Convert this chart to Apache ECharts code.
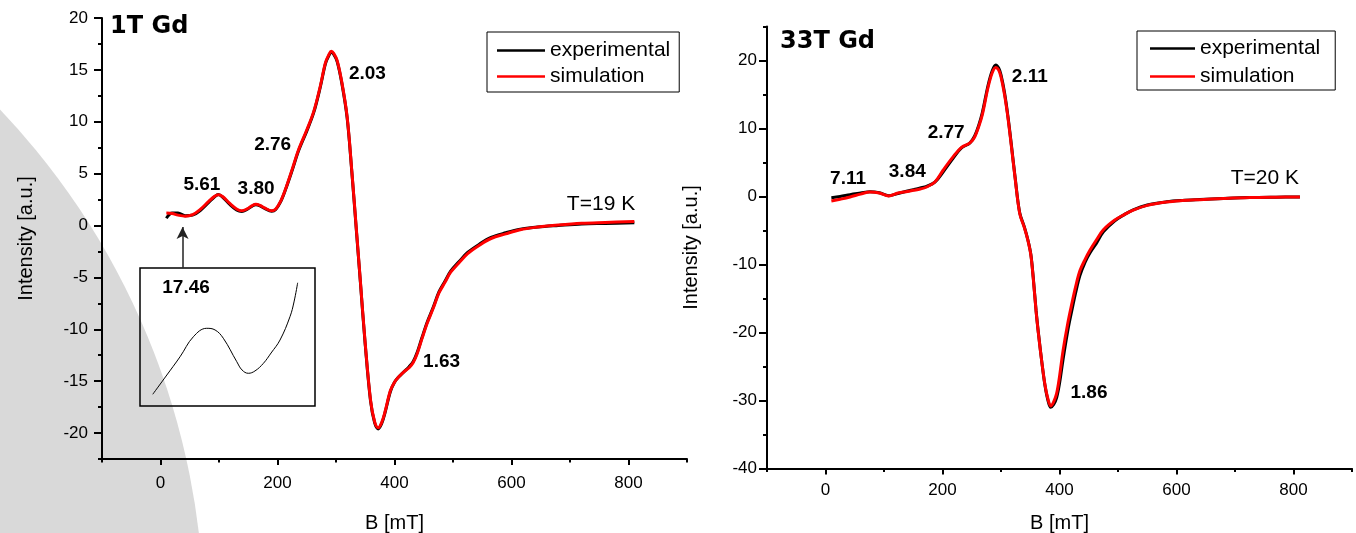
<!DOCTYPE html>
<html><head><meta charset="utf-8">
<script src="https://cdn.jsdelivr.net/npm/echarts@6/dist/echarts.min.js"></script>
<style>html,body{margin:0;padding:0;background:#fff}#c{width:1356px;height:533px}</style>
</head><body><div id="c"></div>
<script>
// ---------- data: left panel (1T Gd, T=19 K) ----------
const leftB   = [10,20,30,42,55,68,82,92,99,106,118,130,139,148,156,163,170,178,190,197,205,213,225,236,250,262,273,282,288,292,296,302,310,319,327,335,342,350,359,366,372,378,384,393,400,407,416,425,432,439,447,456,466,476,486,496,510,525,545,565,590,615,645,680,720,760,810];
const leftSim = [1.2,1.15,1.0,0.9,1.05,1.55,2.3,2.8,2.97,2.8,2.15,1.6,1.42,1.6,1.9,2.05,1.95,1.7,1.42,1.6,2.3,3.4,5.4,7.3,9.2,11.0,13.4,15.7,16.5,16.8,16.6,15.9,13.8,10.5,5.3,-0.5,-5.6,-11.4,-16.8,-18.9,-19.5,-19.0,-17.9,-15.9,-15.1,-14.6,-14.1,-13.7,-13.2,-12.3,-10.9,-9.4,-8.0,-6.5,-5.5,-4.5,-3.6,-2.7,-1.9,-1.25,-0.8,-0.4,-0.15,0.05,0.22,0.3,0.39];
const leftExp = [0.7,1.2,1.2,0.95,1.0,1.45,2.2,2.75,2.98,2.75,2.05,1.5,1.35,1.55,1.85,2.0,1.9,1.65,1.38,1.55,2.25,3.35,5.3,7.2,9.1,10.9,13.3,15.6,16.4,16.7,16.5,15.8,13.7,10.4,5.2,-0.6,-5.7,-11.5,-16.9,-19.0,-19.6,-19.1,-18.0,-16.0,-15.1,-14.6,-14.1,-13.6,-13.1,-12.2,-10.8,-9.3,-7.9,-6.4,-5.4,-4.4,-3.5,-2.6,-1.8,-1.15,-0.7,-0.35,-0.15,0.0,0.15,0.2,0.26];
const leftLabelText = ['5.61','3.80','2.76','2.03','1.63','T=19 K'];
const leftLabelB    = [70.8,163.4,191.7,353.7,480.5,753];
const leftLabelI    = [3.92,3.57,7.78,14.58,-13.14,2.07];
const arrowB = 37.7, arrowFromI = -4.08, arrowToI = -0.15;
// inset (enlarged low-field feature)
const insetX = [0.73,1.49,2.29,3.05,3.81,4.29,4.76,5.53,5.83,6.19,6.57,7.05,7.49,8.0,8.57,8.8,9.01];
const insetY = [0.85,2.17,3.57,5.02,5.63,5.51,4.91,3.21,2.61,2.37,2.54,3.09,3.84,4.78,6.47,7.54,8.93];
const insetLabelText = ['17.46'];
const insetLabelX = [2.63], insetLabelY = [8.55];

// ---------- data: right panel (33T Gd, T=20 K) ----------
const rightB   = [10,25,42,60,76,92,108,124,140,150,162,173,187,201,218,232,247,255,262,268,278,285,291,296,300,306,312,318,324,332,340,346,351,355,360,364,370,375,380,385,390,395,400,406,414,421,428,435,444,452,463,475,494,510,526,550,583,610,640,680,725,770,811];
const rightSim = [-0.66,-0.4,-0.07,0.35,0.66,0.52,0.08,0.52,0.75,0.91,1.1,1.4,2.14,3.86,5.82,7.2,7.88,8.76,10.3,12.0,16.1,18.2,18.98,18.6,17.6,15.0,11.5,7.2,2.8,-2.5,-4.6,-6.45,-8.6,-11.9,-16.9,-20.2,-24.5,-27.6,-29.7,-30.8,-30.2,-29.0,-26.5,-22.7,-18.7,-15.8,-13.1,-10.9,-9.2,-7.9,-6.4,-4.9,-3.5,-2.7,-2.0,-1.3,-0.81,-0.6,-0.46,-0.3,-0.16,-0.1,-0.07];
const rightExp = [-0.17,0.0,0.27,0.5,0.7,0.55,0.12,0.45,0.8,1.0,1.25,1.5,2.1,3.6,5.6,7.1,7.9,8.9,10.5,12.3,16.4,18.5,19.35,18.9,17.9,15.3,11.7,7.4,2.9,-2.4,-4.5,-6.4,-8.5,-11.8,-16.8,-20.1,-24.5,-27.7,-29.9,-31.0,-30.6,-29.6,-27.5,-24.0,-19.8,-16.8,-14.0,-11.6,-9.6,-8.3,-6.9,-5.2,-3.6,-2.7,-1.95,-1.25,-0.78,-0.58,-0.45,-0.3,-0.16,-0.1,-0.07];
const rightLabelText = ['7.11','3.84','2.77','2.11','1.86','T=20 K'];
const rightLabelB    = [38.6,139.8,206.2,349.2,450.4,751];
const rightLabelI    = [2.64,3.67,9.43,17.6,-28.9,2.75];

// ---------- ticks ----------
const xMajorTicks = [0,200,400,600,800];
const xMinorTicks = [-100,100,300,500,700,900];
const leftYMajor  = [-20,-15,-10,-5,0,5,10,15,20];
const leftYMinor  = [-22.5,-17.5,-12.5,-7.5,-2.5,2.5,7.5,12.5,17.5];
const rightYMajor = [-40,-30,-20,-10,0,10,20];
const rightYMinor = [-35,-25,-15,-5,5,15,25];

const F = '"Liberation Sans", Arial, sans-serif';
const BLACK = '#000';
const RED = '#ff0000';
const pairs = (xs, ys) => xs.map((x, k) => [x, ys[k]]);
const lineStyleAx = {color: BLACK, width: 2};

function mainAxis(kind, g, min, max, major, o) {
  return {
    gridIndex: g, type: 'value', min: min, max: max,
    position: kind === 'x' ? 'bottom' : 'left',
    axisLine: {show: true, onZero: false, lineStyle: lineStyleAx},
    splitLine: {show: false},
    axisTick: {show: true, inside: false, customValues: major, length: kind === 'x' ? 6 : 8, lineStyle: lineStyleAx},
    axisLabel: {show: true, customValues: major, color: BLACK, fontSize: 17, fontFamily: F, margin: o.margin},
    name: o.name, nameLocation: 'middle', nameGap: o.nameGap,
    nameTextStyle: {color: BLACK, fontSize: 20, fontFamily: F}
  };
}
function minorAxis(kind, g, min, max, minor) {
  return {
    gridIndex: g, type: 'value', min: min, max: max,
    position: kind === 'x' ? 'bottom' : 'left',
    axisLine: {show: false, onZero: false},
    splitLine: {show: false},
    axisTick: {show: true, inside: false, customValues: minor, length: kind === 'x' ? 3.5 : 4, lineStyle: lineStyleAx},
    axisLabel: {show: false}
  };
}
function labelSeries(xi, yi, texts, xs, ys, size) {
  return {
    type: 'scatter', xAxisIndex: xi, yAxisIndex: yi, symbol: 'circle', symbolSize: 1,
    itemStyle: {color: 'rgba(0,0,0,0)', opacity: 1}, silent: true, z: 5,
    data: texts.map((t, k) => {
      const item = {name: t, value: [xs[k], ys[k]]};
      if (t.indexOf('T=') === 0) item.label = {fontWeight: 'normal', fontSize: 21};
      return item;
    }),
    label: {show: true, position: 'inside', formatter: '{b}', color: BLACK, opacity: 1,
            textBorderWidth: 0, fontFamily: F, fontWeight: 'bold', fontSize: size}
  };
}
function legendAt(left, top, pad, iw, gap) {
  return {
    show: true, orient: 'vertical', left: left, top: top, selectedMode: false,
    data: ['experimental', 'simulation'],
    icon: 'rect',
    borderColor: BLACK, borderWidth: 1, padding: pad,
    itemWidth: iw, itemHeight: 2.5, itemGap: gap,
    textStyle: {color: BLACK, fontSize: 21, fontFamily: F, lineHeight: 21}
  };
}

const option = {
  animation: false,
  backgroundColor: '#fff',
  graphic: [
    {type: 'circle', shape: {cx: -537, cy: 620, r: 741}, style: {fill: '#d9d9d9'}, z: -10, silent: true},
    {type: 'text', x: 110, y: 27, z: 10, style: {text: '1T Gd', font: 'bold 24px "DejaVu Sans"', fill: BLACK, verticalAlign: 'middle'}},
    {type: 'text', x: 780, y: 42, z: 10, style: {text: '33T Gd', font: 'bold 24px "DejaVu Sans"', fill: BLACK, verticalAlign: 'middle'}}
  ],
  legend: [
    legendAt(487, 32, [8, 9, 5, 10], 48, 5),
    legendAt(1137, 31, [7, 15, 3, 13], 45, 7)
  ],
  grid: [
    {left: 102, top: 18, width: 585, height: 441, containLabel: false, outerBoundsMode: 'none'},
    {left: 767, top: 26.5, width: 585, height: 442, containLabel: false, outerBoundsMode: 'none'},
    {left: 140, top: 268, width: 175, height: 138, show: true, borderColor: BLACK, borderWidth: 1.5, backgroundColor: 'rgba(0,0,0,0)', containLabel: false, outerBoundsMode: 'none'}
  ],
  xAxis: [
    mainAxis('x', 0, -100, 900, xMajorTicks, {margin: 16, name: 'B [mT]', nameGap: 54}),
    minorAxis('x', 0, -100, 900, xMinorTicks),
    mainAxis('x', 1, -100, 900, xMajorTicks, {margin: 13, name: 'B [mT]', nameGap: 45}),
    minorAxis('x', 1, -100, 900, xMinorTicks),
    {gridIndex: 2, type: 'value', min: 0, max: 10, show: false}
  ],
  yAxis: [
    mainAxis('y', 0, -22.5, 20, leftYMajor, {margin: 14, name: 'Intensity [a.u.]', nameGap: 66}),
    minorAxis('y', 0, -22.5, 20, leftYMinor),
    mainAxis('y', 1, -40, 25, rightYMajor, {margin: 10, name: 'Intensity [a.u.]', nameGap: 66}),
    minorAxis('y', 1, -40, 25, rightYMinor),
    {gridIndex: 2, type: 'value', min: 0, max: 10, show: false}
  ],
  series: [
    {name: 'experimental', type: 'line', xAxisIndex: 0, yAxisIndex: 0, data: pairs(leftB, leftExp),
     symbol: 'none', showSymbol: false, smooth: 0.35, lineStyle: {color: BLACK, width: 3}, itemStyle: {color: BLACK}, z: 3,
     markLine: {silent: true, symbol: ['none', 'arrow'], symbolSize: [9, 12], label: {show: false},
       lineStyle: {color: '#222', width: 1.5, type: 'solid'},
       data: [[{coord: [arrowB, arrowFromI]}, {coord: [arrowB, arrowToI]}]]}},
    {name: 'simulation', type: 'line', xAxisIndex: 0, yAxisIndex: 0, data: pairs(leftB, leftSim),
     symbol: 'none', showSymbol: false, smooth: 0.35, lineStyle: {color: RED, width: 3}, itemStyle: {color: RED}, z: 4},
    {name: 'experimental', type: 'line', xAxisIndex: 2, yAxisIndex: 2, data: pairs(rightB, rightExp),
     symbol: 'none', showSymbol: false, smooth: 0.35, lineStyle: {color: BLACK, width: 3}, itemStyle: {color: BLACK}, z: 3},
    {name: 'simulation', type: 'line', xAxisIndex: 2, yAxisIndex: 2, data: pairs(rightB, rightSim),
     symbol: 'none', showSymbol: false, smooth: 0.35, lineStyle: {color: RED, width: 3}, itemStyle: {color: RED}, z: 4},
    {name: 'inset', type: 'line', xAxisIndex: 4, yAxisIndex: 4, data: pairs(insetX, insetY),
     symbol: 'none', showSymbol: false, smooth: 0.4, lineStyle: {color: BLACK, width: 1}, z: 3},
    labelSeries(0, 0, leftLabelText, leftLabelB, leftLabelI, 19),
    labelSeries(2, 2, rightLabelText, rightLabelB, rightLabelI, 19),
    labelSeries(4, 4, insetLabelText, insetLabelX, insetLabelY, 19)
  ]
};
const chart = echarts.init(document.getElementById('c'), null, {renderer: 'canvas'});
chart.setOption(option);
</script>
</body></html>
